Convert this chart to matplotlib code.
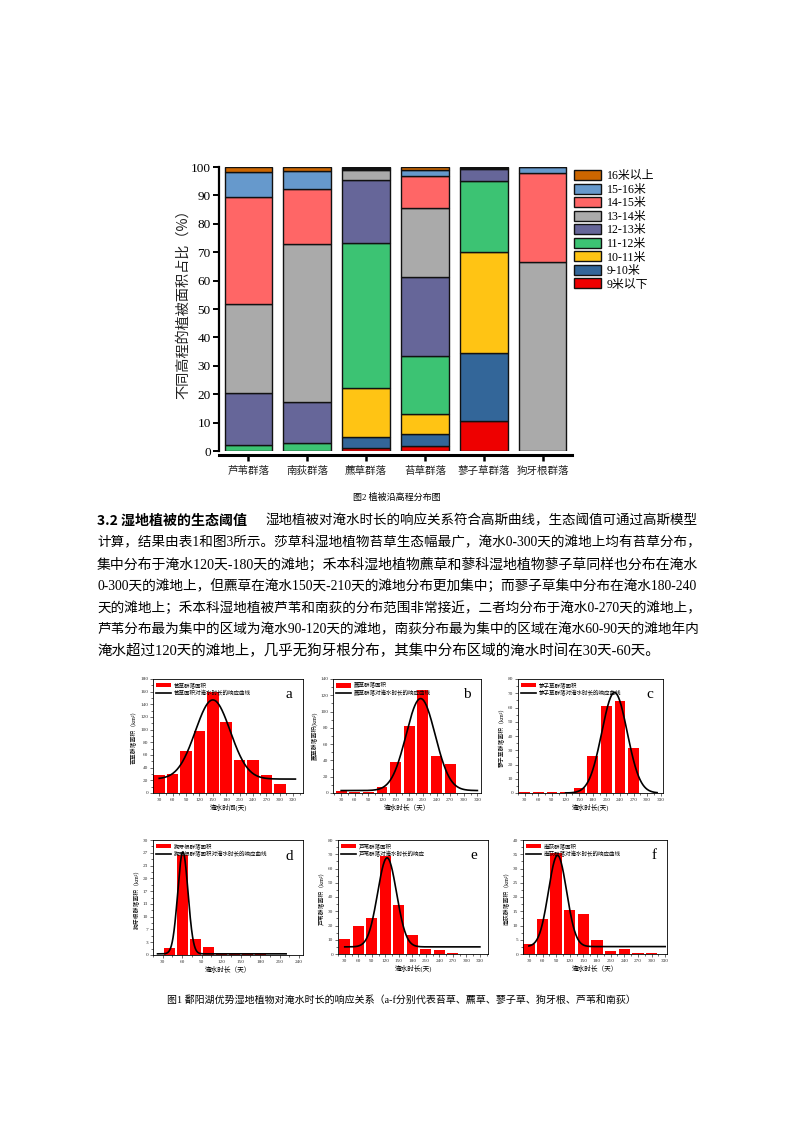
import numpy as np
import matplotlib
matplotlib.use('Agg')
import matplotlib.pyplot as plt
from matplotlib.patches import Patch
from matplotlib.lines import Line2D
from matplotlib.ticker import MultipleLocator, FixedLocator, AutoMinorLocator

CJK = 'Noto Sans CJK SC'
SERIF = 'Liberation Serif'
plt.rcParams['font.family'] = [SERIF, CJK]
plt.rcParams['axes.unicode_minus'] = False

# ---------------- data: stacked bar chart ----------------
communities = ['芦苇群落', '南荻群落', '藨草群落', '苔草群落', '蓼子草群落', '狗牙根群落']
elev_classes = ['9米以下', '9-10米', '10-11米', '11-12米', '12-13米',
                '13-14米', '14-15米', '15-16米', '16米以上']
share_below9 = [0, 0, 1.1, 1.9, 10.6, 0]
share_9_10 = [0, 0, 3.9, 4.1, 23.9, 0]
share_10_11 = [0, 0, 17.3, 7.2, 35.5, 0]
share_11_12 = [2.2, 2.7, 50.9, 20.3, 25.2, 0]
share_12_13 = [18.2, 14.7, 22.1, 27.6, 4.0, 0]
share_13_14 = [31.4, 55.5, 3.6, 24.5, 0.3, 66.5]
share_14_15 = [37.8, 19.5, 0.5, 11.1, 0, 31.4]
share_15_16 = [8.6, 6.2, 0.3, 2.2, 0, 2.1]
share_16up = [1.8, 1.4, 0.3, 1.1, 0.5, 0]
elev_colors = ['#ee0000', '#336699', '#ffc414', '#3cc373', '#666699',
               '#aaaaaa', '#ff6666', '#6699cc', '#cc6600']

# ---------------- data: response panels ----------------
flood_days = [30, 60, 90, 120, 150, 180, 210, 240, 270, 300, 330]
area_a = [28, 30, 67, 98, 160, 112, 52, 52, 28, 15, 0]
area_b = [2.5, 1.5, 1.5, 7.4, 38, 82, 126, 46, 35.5, 0, 0]
area_c = [0.4, 0.4, 0.4, 0.4, 3.7, 25.7, 60.8, 64.8, 31.6, 0, 0]
flood_days_d = [40, 60, 80, 100, 120, 140, 160, 180, 200]
area_d = [1.7, 26.2, 4.2, 2.0, 0.2, 0.15, 0.2, 0.2, 0.1]
area_e = [10.5, 20, 25, 68.5, 34.5, 13, 3.2, 3, 1, 0, 0]
area_f = [3.5, 12.3, 35.5, 15.4, 14.2, 4.8, 1.0, 1.8, 0.4, 0.2, 0]
# Gaussian fit parameters: y0, A, xc, w
gauss_a = [22, 125, 150, 39]
gauss_b = [3, 113, 205, 32]
gauss_c = [0, 70.5, 228, 28]
gauss_d = [0.3, 26.6, 61, 7.9]
gauss_e = [5, 62.5, 124, 21]
gauss_f = [2.6, 32, 93, 20]

W, H = 793, 1122
fig = plt.figure(figsize=(W / 100, H / 100), dpi=100)
fig.patch.set_facecolor('white')


def rect(x0, y0, x1, y1):
    return [x0 / W, 1 - y1 / H, (x1 - x0) / W, (y1 - y0) / H]


# ---------------- stacked bar chart ----------------
ax = fig.add_axes(rect(219, 167, 572, 451))
series = [share_below9, share_9_10, share_10_11, share_11_12, share_12_13,
          share_13_14, share_14_15, share_15_16, share_16up]
xpos = np.arange(len(communities))
bottom = np.zeros(len(communities))
for vals, col in zip(series, elev_colors):
    vals = np.array(vals, dtype=float)
    ax.bar(xpos, vals, bottom=bottom, width=0.81, color=col,
           edgecolor='#111111', linewidth=1.0, zorder=2)
    bottom += vals
ax.set_xlim(-0.5, 5.5)
ax.set_ylim(0, 100)
ax.spines['top'].set_visible(False)
ax.spines['right'].set_visible(False)
ax.spines['left'].set_linewidth(1.6)
ax.spines['bottom'].set_linewidth(2.2)
ax.spines['bottom'].set_position(('outward', 3))
ax.set_yticks(np.arange(0, 101, 10))
ax.set_xticks(xpos)
ax.set_xticklabels(communities, fontsize=7.6, family=[CJK], color='#222222')
ax.tick_params(axis='y', direction='out', length=4, width=1.4, labelsize=9.5, pad=2,
               labelfontfamily=SERIF)
ax.tick_params(axis='x', direction='out', length=4, width=1.8, pad=4)
fig.text(183 / W, 1 - 301 / H, '不同高程的植被面积占比（%）', rotation=90,
         fontsize=10.2, family=[CJK], ha='center', va='center', color='#222222')
handles = [Patch(facecolor=c, edgecolor='#111111', linewidth=1.0) for c in elev_colors]
leg = fig.legend(handles[::-1], elev_classes[::-1], loc='upper left',
                 bbox_to_anchor=(566 / W, 1 - 162 / H), frameon=False,
                 fontsize=8.6, handlelength=2.2, handleheight=0.9,
                 handletextpad=0.5, labelspacing=0.12, borderpad=0.2)
for t in leg.get_texts():
    t.set_family([SERIF, CJK])

fig.text(397 / W, 1 - 497 / H, '图2 植被沿高程分布图', fontsize=6.5,
         family=[SERIF, CJK], ha='center', va='center')

# ---------------- paragraph ----------------
renderer = fig.canvas.get_renderer()


def fit_text(x0, x1, y, s, size, **kw):
    t = fig.text(x0 / W, 1 - y / H, s, fontsize=size, va='center', ha='left', **kw)
    w = t.get_window_extent(renderer=renderer).width
    t.set_fontsize(size * (x1 - x0) / w)
    return t


body_family = [SERIF, CJK]
fit_text(97, 247, 521, '3.2 湿地植被的生态阈值', 10, family=[CJK], weight='bold')
fit_text(265, 697, 521, '湿地植被对淹水时长的响应关系符合高斯曲线，生态阈值可通过高斯模型',
         10.2, family=body_family)
lines = [
    ('计算，结果由表1和图3所示。莎草科湿地植物苔草生态幅最广，淹水0-300天的滩地上均有苔草分布，', 697),
    ('集中分布于淹水120天-180天的滩地；禾本科湿地植物藨草和蓼科湿地植物蓼子草同样也分布在淹水', 697),
    ('0-300天的滩地上，但藨草在淹水150天-210天的滩地分布更加集中；而蓼子草集中分布在淹水180-240', 697),
    ('天的滩地上；禾本科湿地植被芦苇和南荻的分布范围非常接近，二者均分布于淹水0-270天的滩地上，', 697),
    ('芦苇分布最为集中的区域为淹水90-120天的滩地，南荻分布最为集中的区域在淹水60-90天的滩地年内', 697),
    ('淹水超过120天的滩地上，几乎无狗牙根分布，其集中分布区域的淹水时间在30天-60天。', 657),
]
ys = [543, 564.5, 586, 608, 630, 651]
for (s, xr), yy in zip(lines, ys):
    fit_text(97, xr, yy, s, 10.2, family=body_family)


# ---------------- response panels ----------------
def panel(r, x, y, width, g, xr, xlim, ylim, ystep, xticks, ylabel, xlabel,
          leg1, leg2, letter, yticks=None, yticklabels=None):
    a = fig.add_axes(rect(*r))
    a.bar(x, y, width=width, color='#ff0000', edgecolor='none', zorder=2)
    xs = np.linspace(xr[0], xr[1], 500)
    ys_ = g[0] + g[1] * np.exp(-(xs - g[2]) ** 2 / (2 * g[3] ** 2))
    a.plot(xs, ys_, color='black', lw=1.2, zorder=3)
    a.set_xlim(*xlim)
    a.set_ylim(*ylim)
    a.set_xticks(xticks)
    if yticks is not None:
        a.yaxis.set_major_locator(FixedLocator(yticks))
        a.set_yticklabels(yticklabels)
    else:
        a.yaxis.set_major_locator(MultipleLocator(ystep))
    a.yaxis.set_minor_locator(AutoMinorLocator(2))
    a.xaxis.set_minor_locator(AutoMinorLocator(2))
    a.tick_params(which='major', direction='out', length=2, width=0.5,
                  labelsize=3.8, pad=1.5, colors='#333333')
    a.tick_params(which='minor', direction='out', length=1.2, width=0.4)
    for sp in a.spines.values():
        sp.set_linewidth(0.6)
    a.set_ylabel(ylabel, fontsize=4.2, family=[SERIF, CJK], labelpad=2)
    a.set_xlabel(xlabel, fontsize=4.8, family=[SERIF, CJK], labelpad=1.5)
    hl = [Patch(facecolor='#ff0000', edgecolor='none'),
          Line2D([0], [0], color='black', lw=1.2)]
    lg = a.legend(hl, [leg1, leg2], loc='upper left', frameon=False,
                  fontsize=4.0, handlelength=2.6, handleheight=1.0,
                  borderaxespad=0.15, labelspacing=0.35, handletextpad=0.6)
    for t in lg.get_texts():
        t.set_family([CJK])
    a.text(0.93, 0.86, letter, transform=a.transAxes, fontsize=11,
           family=[SERIF], ha='right', va='center')
    return a


panel((153, 679, 303, 793), flood_days, area_a, 26, gauss_a, (30, 335),
      (16, 352), (0, 180), 20, flood_days, '苔草群落面积（km²）', '淹水时间(天)',
      '苔草群落面积', '苔草面积对淹水时长的响应曲线', 'a')
panel((333, 679, 481, 793), flood_days, area_b, 24, gauss_b, (30, 330),
      (12, 338), (0, 140), 20, flood_days, '藨草群落面积(km²)', '淹水时长（天）',
      '藨草群落面积', '藨草群落对淹水时长的响应曲线', 'b')
panel((518, 679, 663, 793), flood_days, area_c, 24, gauss_c, (120, 322),
      (15, 335), (0, 80), 10, flood_days, '蓼子草群落面积（km²）', '淹水时长(天)',
      '蓼子草群落面积', '蓼子草群落对淹水时长的响应曲线', 'c')
d_ticks = list(np.arange(0, 30.01, 10 / 3))
d_labels = ['0', '3', '7', '10', '13', '17', '20', '23', '27', '30']
panel((153, 840, 303, 955), flood_days_d, area_d, 17, gauss_d, (22, 220),
      (15, 246), (0, 30), 3, [30, 60, 90, 120, 150, 180, 210, 240],
      '狗牙根群落面积（km²）', '淹水时长（天）', '狗牙根群落面积',
      '狗牙根群落面积对淹水时长的响应曲线', 'd', yticks=d_ticks, yticklabels=d_labels)
panel((338, 840, 488, 954), flood_days, area_e, 25, gauss_e, (30, 330),
      (15, 348), (0, 80), 10, flood_days, '芦苇群落面积（km²）', '淹水时长(天)',
      '芦苇群落面积', '芦苇群落对淹水时长的响应', 'e')
panel((523, 840, 667, 954), flood_days, area_f, 25, gauss_f, (30, 330),
      (17, 334), (0, 40), 5, flood_days, '南荻群落面积（km²）', '淹水时长（天）',
      '南荻群落面积', '南荻群落对淹水时长的响应曲线', 'f')

fit_text(167, 633, 1000,
         '图1 鄱阳湖优势湿地植物对淹水时长的响应关系（a-f分别代表苔草、藨草、蓼子草、狗牙根、芦苇和南荻）',
         6.5, family=[SERIF, CJK])

fig.savefig('out.png', dpi=100)
